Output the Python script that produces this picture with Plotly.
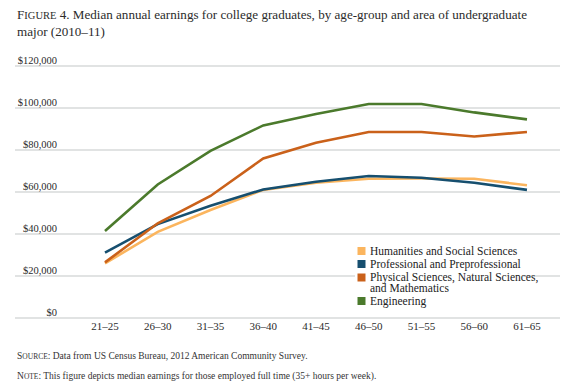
import plotly.graph_objects as go

age_groups = ["21–25", "26–30", "31–35", "36–40", "41–45", "46–50", "51–55", "56–60", "61–65"]
humanities = [26000, 41000, 51400, 61000, 64400, 66300, 66400, 66300, 63200]
professional = [31100, 44700, 53500, 61200, 64900, 67600, 66800, 64400, 61000]
physical = [26500, 45100, 58100, 76000, 83500, 88600, 88600, 86400, 88600]
engineering = [41400, 63600, 79600, 91700, 97100, 101900, 101900, 97900, 94600]

series_names = ["Humanities and Social Sciences", "Professional and Preprofessional",
                "Physical Sciences, Natural Sciences,<br>and Mathematics", "Engineering"]
series_values = [humanities, professional, physical, engineering]
colors = ["#FBB55E", "#164F6F", "#CA611A", "#4B7A2C"]

y_ticks = [0, 20000, 40000, 60000, 80000, 100000, 120000]
y_tick_labels = ["$0", "$20,000", "$40,000", "$60,000", "$80,000", "$100,000", "$120,000"]
y_max = 120000

serif = "Liberation Serif"
W, H = 570, 391
L, R, T, B = 60, 10, 66, 73
plot_w = W - L - R
plot_h = H - T - B


def px_x(px):
    return (px - L) / plot_w


def px_y(py):
    return (H - B - py) / plot_h


fig = go.Figure()
for name, vals, c in zip(series_names, series_values, colors):
    fig.add_trace(go.Scatter(x=age_groups, y=vals, mode="lines", name=name.replace("<br>", " "),
                             line=dict(color=c, width=2.6), showlegend=False, hoverinfo="skip"))

# gridlines extending to the left edge (beneath the tick labels)
for v in y_ticks:
    fig.add_shape(type="line", xref="paper", yref="paper", x0=px_x(15), x1=1,
                  y0=v / y_max, y1=v / y_max, line=dict(color="#D7DADA", width=1.5), layer="below")

# legend (white box, swatches and labels)
fig.add_shape(type="rect", xref="paper", yref="paper", x0=px_x(355), x1=px_x(523),
              y0=px_y(308), y1=px_y(243), fillcolor="white", line=dict(width=0), layer="below")
legend_rows = [251, 264, 277.5, 301]
for name, c, row in zip(series_names, colors, legend_rows):
    fig.add_shape(type="rect", xref="paper", yref="paper", x0=px_x(357.5), x1=px_x(365.5),
                  y0=px_y(row + 4), y1=px_y(row - 4), fillcolor=c, line=dict(width=0), layer="above")
    lines = name.split("<br>")
    for i, ln in enumerate(lines):
        fig.add_annotation(xref="paper", yref="paper", x=px_x(368), y=px_y(row + i * 10.5),
                           xanchor="left", yanchor="middle", showarrow=False, text=ln,
                           font=dict(size=11.5, family=serif, color="#222222"))

fig.update_layout(
    width=W, height=H,
    margin=dict(l=L, r=R, t=T, b=B, autoexpand=False),
    paper_bgcolor="white", plot_bgcolor="rgba(0,0,0,0)",
    font=dict(family=serif, color="#333333"),
    xaxis=dict(type="category", range=[-0.853, 8.626], showgrid=False, showline=False, zeroline=False,
               ticks="", tickfont=dict(size=11, color="#2b2b2b")),
    yaxis=dict(range=[0, y_max], tickvals=y_ticks, ticktext=y_tick_labels, showgrid=False,
               zeroline=False, showline=False, ticks="", ticklabelshift=-6, ticklabelstandoff=2,
               tickfont=dict(size=10.5, color="#2b2b2b")),
    showlegend=False,
)

fig.add_annotation(xref="paper", yref="paper", x=px_x(15), y=px_y(23), xanchor="left", yanchor="middle",
                   showarrow=False, align="left",
                   text="F<span style='font-size:10.5px'>IGURE</span> 4. Median annual earnings for college graduates, by age-group and area of undergraduate<br>major (2010–11)",
                   font=dict(family=serif, size=13.1, color="#2b2b2b"))
fig.add_annotation(xref="paper", yref="paper", x=px_x(15), y=px_y(356), xanchor="left", yanchor="middle",
                   showarrow=False, align="left",
                   text="S<span style='font-size:7.5px'>OURCE</span>: Data from US Census Bureau, 2012 American Community Survey.",
                   font=dict(size=9.5, family=serif, color="#333333"))
fig.add_annotation(xref="paper", yref="paper", x=px_x(15), y=px_y(376), xanchor="left", yanchor="middle",
                   showarrow=False, align="left",
                   text="N<span style='font-size:7.5px'>OTE</span>: This figure depicts median earnings for those employed full time (35+ hours per week).",
                   font=dict(size=9.5, family=serif, color="#333333"))

fig.write_html("out.html", config={"displayModeBar": False},
               post_script="document.body.style.margin='0px';")
